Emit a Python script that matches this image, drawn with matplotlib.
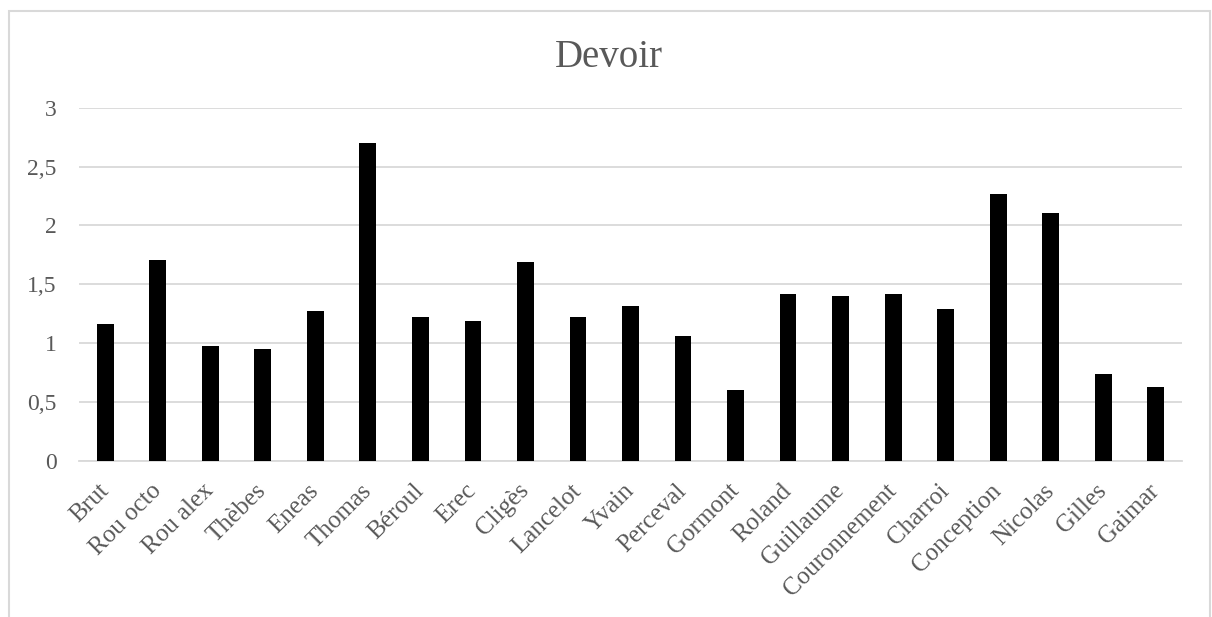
import matplotlib
matplotlib.use("Agg")
import matplotlib.pyplot as plt
from matplotlib.patches import Rectangle

categories = ["Brut", "Rou octo", "Rou alex", "Thèbes", "Eneas", "Thomas", "Béroul",
              "Erec", "Cligès", "Lancelot", "Yvain", "Perceval", "Gormont", "Roland",
              "Guillaume", "Couronnement", "Charroi", "Conception", "Nicolas", "Gilles", "Gaimar"]
values = [1.16, 1.71, 0.98, 0.95, 1.27, 2.70, 1.22, 1.19, 1.69, 1.22, 1.32, 1.06, 0.60,
          1.42, 1.40, 1.415, 1.29, 2.265, 2.11, 0.735, 0.63]
y_ticks = [0, 0.5, 1, 1.5, 2, 2.5, 3]
y_tick_labels = ["0", "0,5", "1", "1,5", "2", "2,5", "3"]
title = "Devoir"

plt.rcParams['font.family'] = ['Liberation Serif', 'DejaVu Serif']
txt = "#595959"
grid = "#d9d9d9"

W, H = 1212, 617
fig = plt.figure(figsize=(W / 100, H / 100), dpi=100)
fig.patches.append(Rectangle((8.5 / W, -0.05), (1210 - 8.5) / W, 1.05 - 11 / H,
                             transform=fig.transFigure, fill=False,
                             edgecolor=grid, linewidth=1.5))
left, right, top, bottom = 79, 1182, 107.7, 461
ax = fig.add_axes([left / W, 1 - bottom / H, (right - left) / W, (bottom - top) / H])

x = list(range(len(categories)))
ax.bar(x, values, width=0.32, color="black", zorder=3)
ax.set_xlim(-0.5, len(categories) - 0.5)
ax.set_ylim(0, 3)
ax.set_yticks(y_ticks)
ax.set_yticklabels(y_tick_labels)
ax.yaxis.grid(True, color=grid, linewidth=1.3, zorder=0)
ax.set_axisbelow(True)
for s in ["top", "right", "left"]:
    ax.spines[s].set_visible(False)
ax.spines["bottom"].set_color(grid)
ax.spines["bottom"].set_linewidth(1.3)
ax.tick_params(axis="both", length=0, colors=txt)
ax.tick_params(axis="y", pad=16, labelsize=17)
ax.set_xticks(x)
ax.set_xticklabels(categories, rotation=45, ha="right", va="center", rotation_mode="anchor")
ax.tick_params(axis="x", pad=19, labelsize=18)

fig.text(609 / W, 1 - 67 / H, title, ha="center", va="baseline", fontsize=28, color=txt)

fig.savefig("out.png", dpi=100)
